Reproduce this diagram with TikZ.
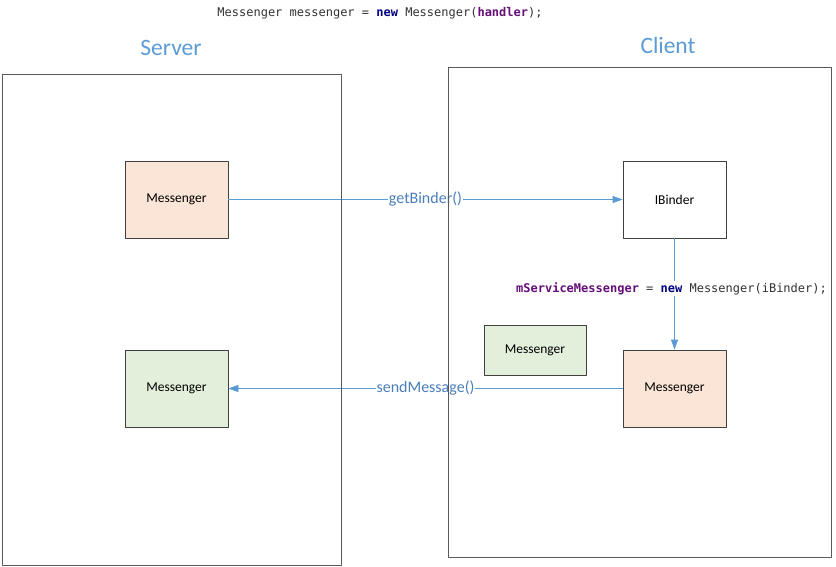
\documentclass[tikz,border=0pt]{standalone}
\usepackage{fontspec}
\setmainfont{Carlito}
\newfontfamily\codefont{DejaVu Sans Mono}
\usetikzlibrary{arrows.meta}
\definecolor{linkblue}{HTML}{5B9BD5}
\definecolor{labelblue}{HTML}{4A7EBB}
\definecolor{peach}{HTML}{FBE5D6}
\definecolor{leaf}{HTML}{E2EFDA}
\definecolor{kwnavy}{HTML}{000080}
\definecolor{varpurple}{HTML}{660E7A}
\definecolor{codegray}{HTML}{333333}
\newcommand{\kw}[1]{\textcolor{kwnavy}{\bfseries #1}}
\newcommand{\var}[1]{\textcolor{varpurple}{\bfseries #1}}
\tikzset{
	obj/.style={draw=black!75, line width=0.8pt, minimum width=103pt, minimum height=77pt, inner sep=0pt, font=\fontsize{13.5}{15}\selectfont},
	side/.style={draw=black!65, line width=0.9pt, inner sep=0pt},
	title/.style={text=linkblue, font=\fontsize{23.5}{27}\selectfont},
	call/.style={draw=linkblue, line width=0.8pt, -{Triangle[length=10pt,width=7pt]}},
	calltext/.style={fill=white, text=labelblue, inner sep=1pt, font=\fontsize{16}{18}\selectfont},
	code/.style={text=codegray, inner sep=1pt, font=\codefont\fontsize{12}{14}\selectfont}
}
\begin{document}
\begin{tikzpicture}[x=1pt, y=-1pt, line join=round]
	\useasboundingbox (0,0) rectangle (836,566);
	\node[code] (create) at (380,13) {Messenger messenger = \kw{new} Messenger(\var{handler});};
	\node[title] (srvtitle) at (171,48) {Server};
	\node[title] (clititle) at (668,45) {Client};
	% server side
	\node[obj, fill=peach] (srvmsg) at (176.5,199.5) {Messenger};
	\node[obj, fill=leaf] (srvrecv) at (176.5,388.5) {Messenger};
	% client side
	\node[obj, fill=white] (binder) at (674.5,199.5) {IBinder};
	\node[obj, fill=peach] (climsg) at (674.5,388.5) {Messenger};
	\node[obj, fill=leaf, minimum width=102pt, minimum height=50pt] (clirecv) at (535,350) {Messenger};
	% calls
	\draw[call] (srvmsg) -- node[calltext] {getBinder()} (binder);
	\draw[call] (climsg) -- node[calltext] {sendMessage()} (srvrecv);
	\draw[call] (binder) -- node[code, fill=white, pos=0.45, xshift=-3pt] {\var{mServiceMessenger} = \kw{new} Messenger(iBinder);} (climsg);
	% process frames on top
	\node[side, minimum width=339pt, minimum height=491pt] (server) at (171.5,319.5) {};
	\node[side, minimum width=383pt, minimum height=490pt] (client) at (639.5,312) {};
\end{tikzpicture}
\end{document}
